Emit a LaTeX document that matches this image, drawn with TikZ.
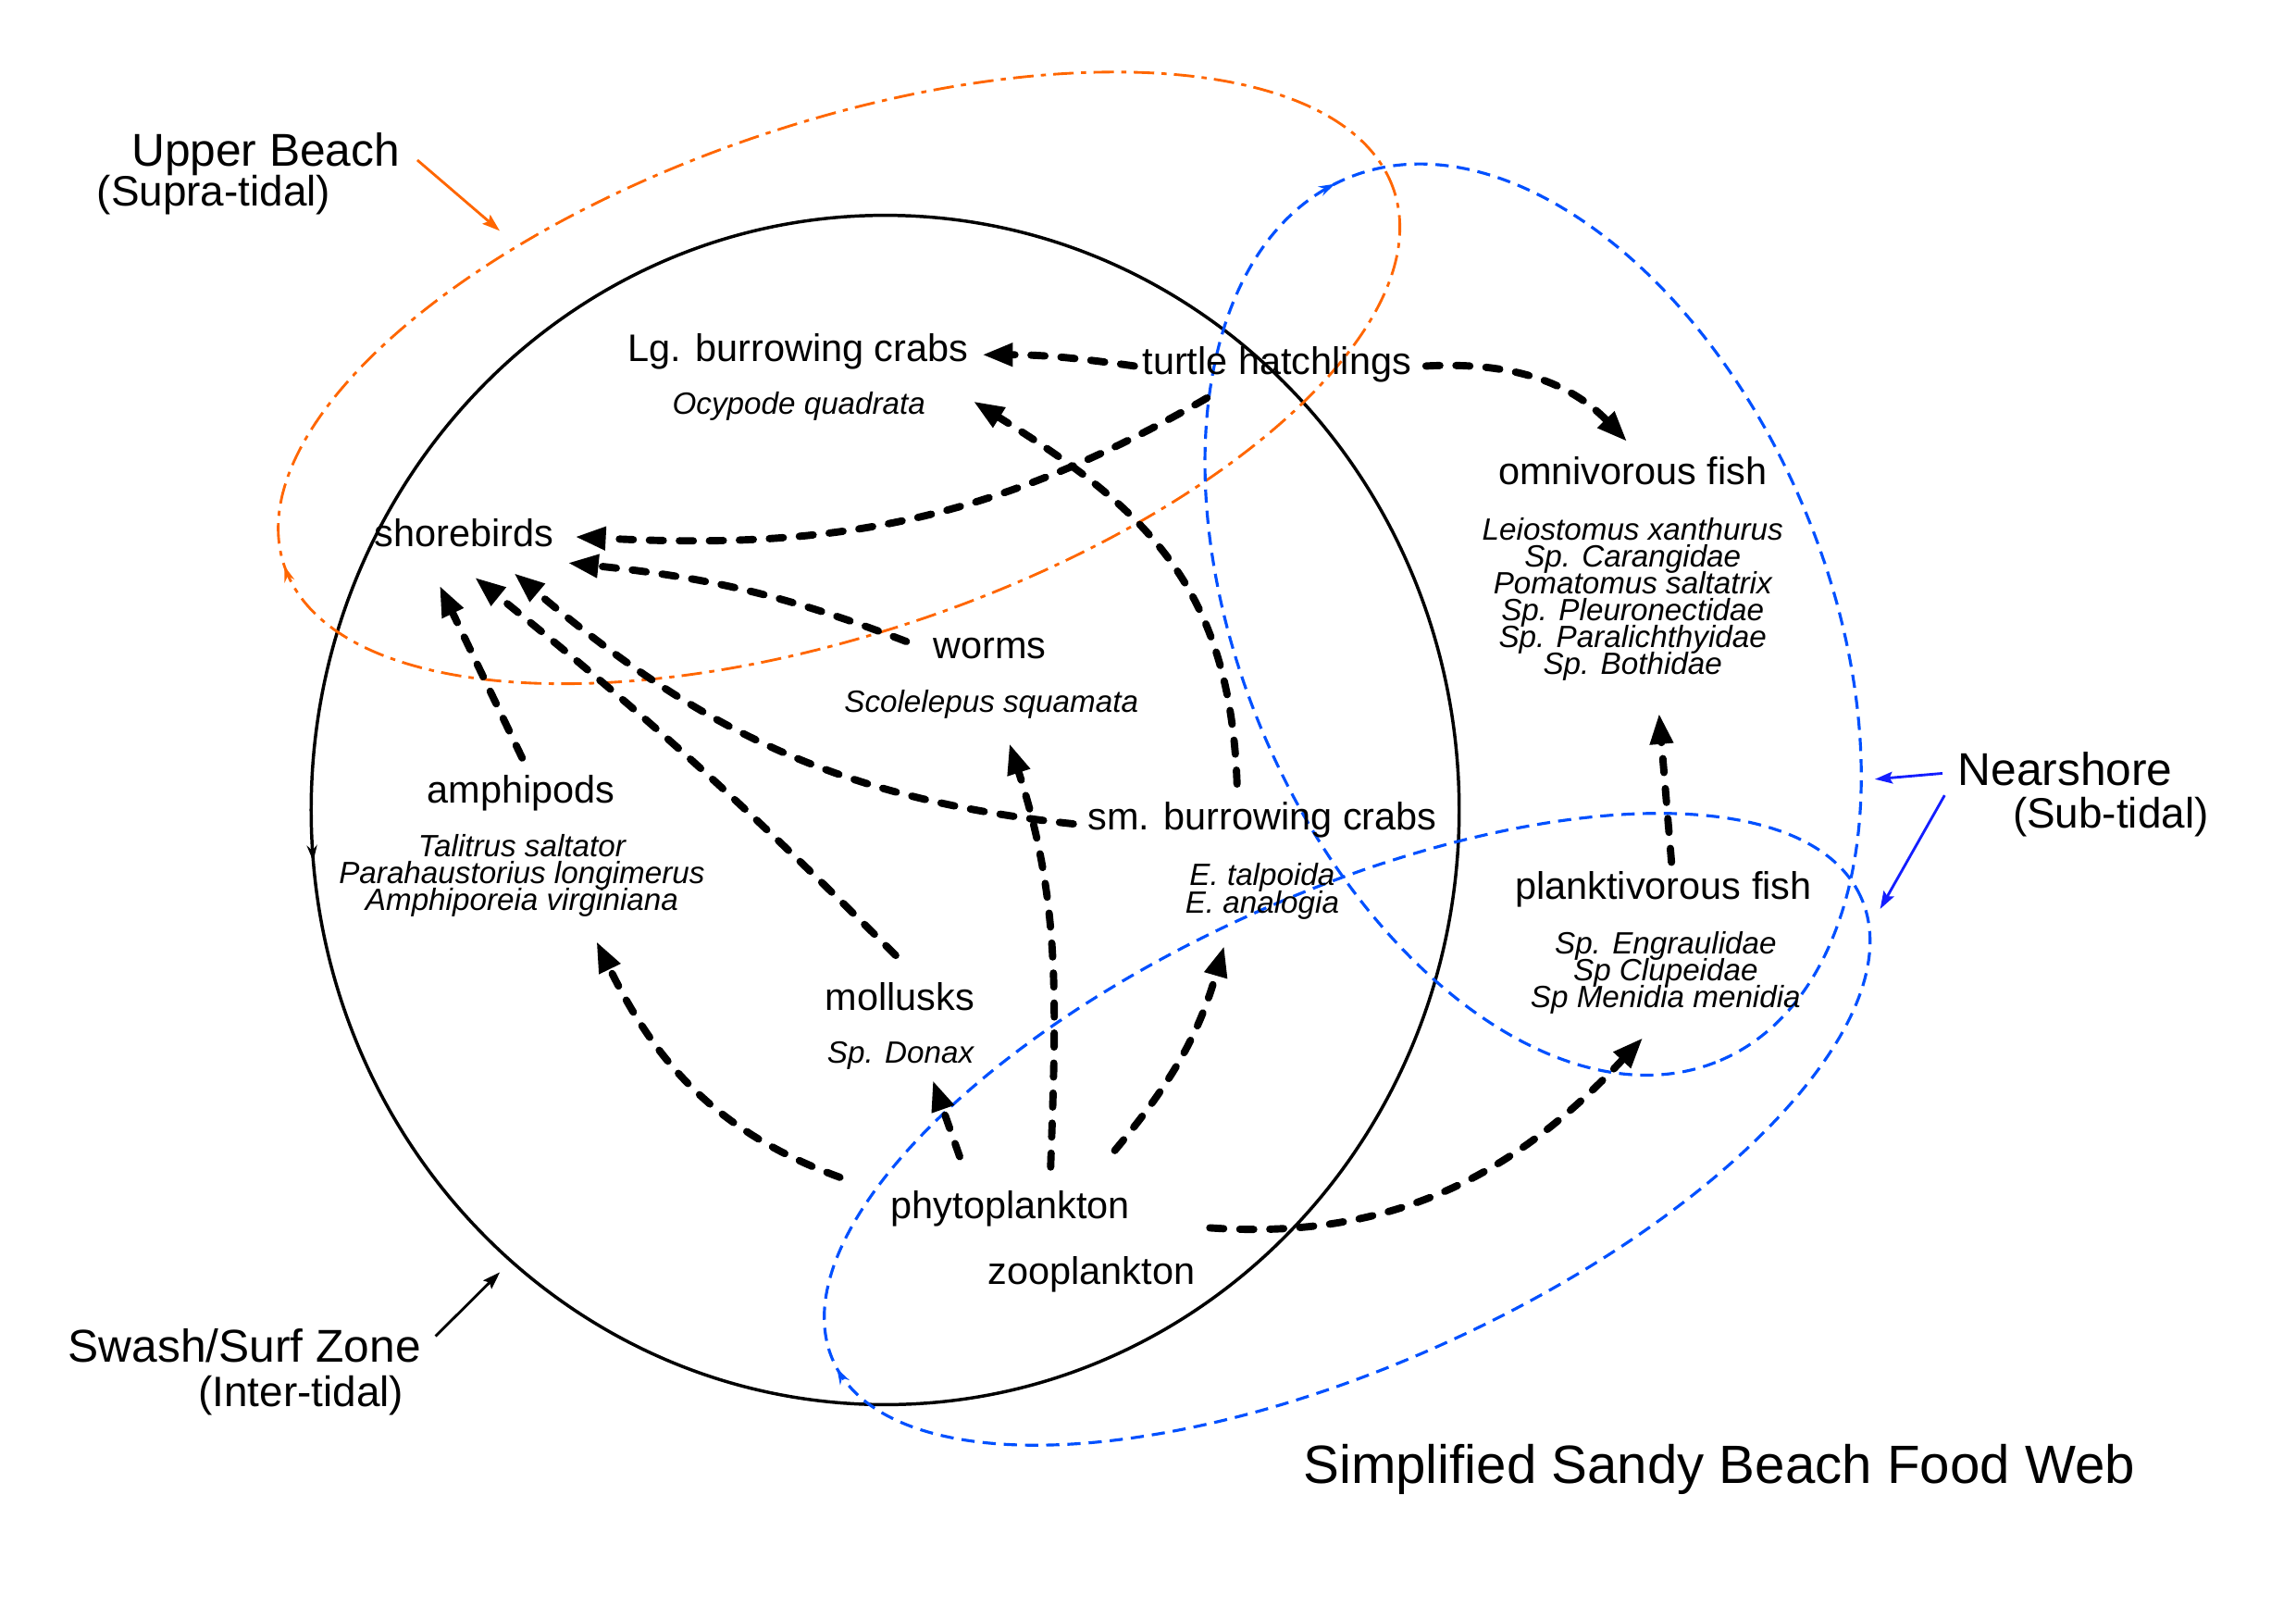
\documentclass[tikz,border=0pt]{standalone}
\usepackage{fontspec}
\setmainfont{Liberation Sans}
\usetikzlibrary{arrows.meta,decorations.markings}
\definecolor{orng}{RGB}{255,102,0}
\definecolor{bdash}{RGB}{0,80,255}
\definecolor{barrow}{RGB}{20,30,255}
\newcommand\mytightlines{\lineskiplimit-60pt\relax\lineskip0pt\relax}
\begin{document}
\begin{tikzpicture}[x=1bp,y=1bp,
  every node/.style={inner sep=0pt},
  lbl/.style={font={\fontsize{26.2bp}{30bp}\selectfont}, anchor=base},
  spc/.style={font={\fontsize{21bp}{18.4bp}\selectfont\itshape\mytightlines}, anchor=base, align=center},
  zone/.style={font={\fontsize{31.4bp}{34bp}\selectfont}, anchor=base},
  zonesub/.style={font={\fontsize{29bp}{32bp}\selectfont}, anchor=base},
  titl/.style={font={\fontsize{36.8bp}{40bp}\selectfont}, anchor=base},
  feed/.style={line width=5bp, dash pattern=on 9.5bp off 11bp, line cap=round,
    -{Triangle[length=21bp,width=15bp]}},
  pointer/.style={line width=1.8bp, -{Stealth[length=12bp,width=8bp,inset=2bp]}},
  ringarrow/.style={postaction={decorate}, decoration={markings, mark=at position #1 with {\arrow{Stealth[length=11bp,width=7bp]}}}},
  ringarrowrev/.style={postaction={decorate}, decoration={markings, mark=at position #1 with {\arrowreversed{Stealth[length=11bp,width=7bp]}}}}
]
\useasboundingbox (0,0) rectangle (1568,-1105);

% ---- zone outlines ----
\draw[black, line width=2.2bp, ringarrow=0.514] (604.5,-553) ellipse [x radius=392, y radius=406];
\draw[orng, line width=1.8bp, dash pattern=on 14bp off 5bp on 3.5bp off 5bp, ringarrowrev=0.5,
  rotate around={18.7:(573,-258)}] (573,-258) ellipse [x radius=400, y radius=174];
\draw[bdash, line width=2bp, dash pattern=on 9bp off 5.5bp, ringarrowrev=0.505,
  rotate around={-67:(1047,-423)}] (1047,-423) ellipse [x radius=327, y radius=200];
\draw[bdash, line width=2bp, dash pattern=on 9bp off 5.5bp, ringarrowrev=0.503,
  rotate around={24.3:(920,-771)}] (920,-771) ellipse [x radius=385, y radius=160.6];

% ---- zone labels ----
\node[zone] (ub) at (181.5,-113.6) {Upper Beach};
\node[zonesub] (ubs) at (146,-140.4) {(Supra-tidal)};
\node[zone] (sw) at (167,-930) {Swash/Surf Zone};
\node[zonesub] (sws) at (205.5,-960) {(Inter-tidal)};
\node[zone] (ns) at (1410.4,-536) {Nearshore};
\node[zonesub] (nss) at (1441.5,-565.3) {(Sub-tidal)};
\node[titl] (title) at (1174,-1012.5) {Simplified Sandy Beach Food Web};

\coordinate (ubA) at (285,-109.3);   \coordinate (ubB) at (341.3,-157.6);
\coordinate (swA) at (297.4,-912.3); \coordinate (swB) at (341.4,-868.6);
\coordinate (nsA) at (1326.5,-528);  \coordinate (nsB) at (1280.4,-532);
\coordinate (nsC) at (1328,-543);    \coordinate (nsD) at (1284,-620.6);
\draw[pointer, orng] (ubA) -- (ubB);
\draw[pointer, black] (swA) -- (swB);
\draw[pointer, barrow] (nsA) -- (nsB);
\draw[pointer, barrow] (nsC) -- (nsD);

% ---- organisms (multi-line nodes: base = last line) ----
\node[lbl] (lgcrab) at (545,-247) {Lg. burrowing crabs};
\node[spc] (lgcrabsp) at (545.6,-282.5) {Ocypode quadrata};
\node[lbl] (turtle) at (872,-255.5) {turtle hatchlings};
\node[lbl] (shorebirds) at (317,-373.5) {shorebirds};
\node[lbl] (worms) at (676,-449.7) {worms};
\node[spc] (wormssp) at (677,-486.4) {Scolelepus squamata};
\node[lbl] (amphi) at (356,-548) {amphipods};
\node[spc] (amphisp) at (356.4,-621.4) {Talitrus saltator\\Parahaustorius longimerus\\Amphiporeia virginiana};
\node[lbl] (smcrab) at (862,-566.8) {sm. burrowing crabs};
\node[spc] (smcrabsp) at (862,-623.2) {E. talpoida\\E. analogia};
\node[lbl] (moll) at (614.5,-689.6) {mollusks};
\node[spc] (mollsp) at (615,-726) {Sp. Donax};
\node[lbl] (phyto) at (690,-832) {phytoplankton};
\node[lbl] (zoo) at (745.5,-876.6) {zooplankton};
\node[lbl] (omni) at (1115,-330.6) {omnivorous fish};
\node[spc] (omnisp) at (1115,-460.5) {Leiostomus xanthurus\\Sp. Carangidae\\Pomatomus saltatrix\\Sp. Pleuronectidae\\Sp. Paralichthyidae\\Sp. Bothidae};
\node[lbl] (plank) at (1136,-614) {planktivorous fish};
\node[spc] (planksp) at (1137.5,-687.8) {Sp. Engraulidae\\Sp Clupeidae\\Sp Menidia menidia};

% ---- feeding links: end points ----
\coordinate (tuL) at (774.7,-249.9);  \coordinate (lgR) at (670.7,-242.2);
\coordinate (tuR) at (973.8,-249.9);  \coordinate (omT) at (1111.2,-301.5);
\coordinate (tuB) at (824.3,-271.7);  \coordinate (sb1) at (392.7,-366.5);
\coordinate (woL) at (619,-438);      \coordinate (sb2) at (387.7,-384.3);
\coordinate (smL) at (733,-562.5);    \coordinate (sb3) at (351,-391.3);
\coordinate (moT) at (611.7,-652.3);  \coordinate (sb4) at (324.2,-394.2);
\coordinate (amT) at (356.6,-517.5);  \coordinate (sb5) at (300.2,-399.8);
\coordinate (smT) at (844.8,-535.3);  \coordinate (lgB) at (664.7,-274);
\coordinate (phW) at (717.5,-796.8);  \coordinate (woB) at (689.3,-507.5);
\coordinate (phM) at (655.4,-789.7);  \coordinate (moB) at (637,-737.5);
\coordinate (phA) at (573.6,-803.8);  \coordinate (amB) at (407.3,-642.7);
\coordinate (phS) at (761.3,-785.5);  \coordinate (smB) at (836,-645.8);
\coordinate (zoR) at (826.2,-838.3);  \coordinate (plB) at (1122,-708.5);
\coordinate (plT) at (1141.5,-588.7); \coordinate (omB) at (1133,-487);

% ---- feeding links ----
\draw[feed] (tuL) to[out=172,in=0] (lgR);
\draw[feed] (tuR) to[out=3,in=134] (omT);
\draw[feed] (tuB) to[out=210,in=-3] (sb1);
\draw[feed] (woL) to[out=159,in=-6] (sb2);
\draw[feed] (smL) to[out=174,in=-40] (sb3);
\draw[feed] (moT) to[bend right=3] (sb4);
\draw[feed] (amT) -- (sb5);
\draw[feed] (smT) to[out=92,in=-32,looseness=1.1] (lgB);
\draw[feed] (phW) to[out=88,in=-72] (woB);
\draw[feed] (phM) -- (moB);
\draw[feed] (phA) to[out=160,in=-64] (amB);
\draw[feed] (phS) to[out=50,in=-106] (smB);
\draw[feed] (zoR) to[out=-4,in=227] (plB);
\draw[feed] (plT) -- (omB);
\end{tikzpicture}
\end{document}
